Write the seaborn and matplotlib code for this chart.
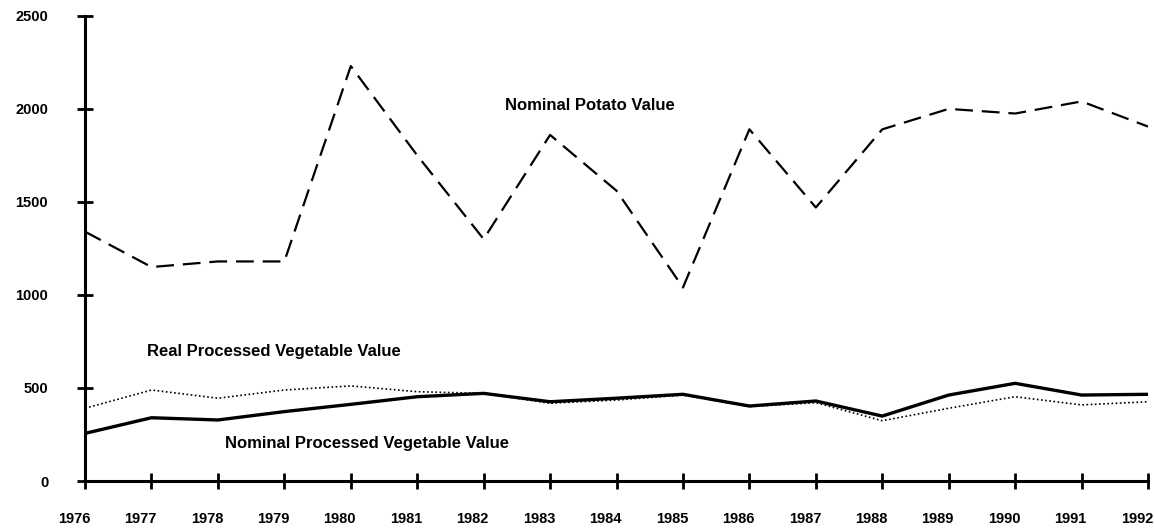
import numpy as np
import pandas as pd
import matplotlib
matplotlib.use("Agg")
import matplotlib.pyplot as plt
import matplotlib.transforms as mtransforms
import seaborn as sns

# Data
years = list(range(1976, 1993))
nominal_potato = [1340, 1150, 1180, 1180, 2230, 1750, 1300, 1860, 1560, 1040,
                  1890, 1470, 1890, 2000, 1975, 2040, 1905]
nominal_veg = [256, 340, 328, 373, 412, 453, 471, 426, 445, 466,
               403, 430, 349, 462, 525, 462, 466]
real_veg = [391, 489, 445, 489, 511, 480, 471, 418, 435, 462,
            400, 421, 324, 391, 453, 409, 426]

df = pd.DataFrame({"year": years, "potato": nominal_potato,
                   "nom_veg": nominal_veg, "real_veg": real_veg})

sns.set_style("white")
plt.rcParams['font.family'] = ['Liberation Sans', 'DejaVu Sans']
plt.rcParams['text.color'] = 'black'

fig = plt.figure(figsize=(11.54, 5.28), dpi=100)
ax = fig.add_axes([0.0737, 0.089, 0.9211, 0.881])

sns.lineplot(data=df, x="year", y="potato", ax=ax, color="black",
             linewidth=1.6)
ax.lines[-1].set_dashes([8, 4])
sns.lineplot(data=df, x="year", y="real_veg", ax=ax, color="black",
             linewidth=1.2)
ax.lines[-1].set_dashes([1, 1.5])
sns.lineplot(data=df, x="year", y="nom_veg", ax=ax, color="black",
             linewidth=2.4)

ax.set_xlim(1976, 1992)
ax.set_ylim(0, 2500)
ax.set_xticks(years)
ax.set_yticks([0, 500, 1000, 1500, 2000, 2500])
ax.set_xlabel("")
ax.set_ylabel("")

for s in ["top", "right"]:
    ax.spines[s].set_visible(False)
for s in ["left", "bottom"]:
    ax.spines[s].set_linewidth(2.2)
    ax.spines[s].set_color("black")

ax.tick_params(axis="both", direction="inout", length=11, width=2,
               color="black", labelcolor="black", labelsize=10.5,
               bottom=True, left=True)
ax.tick_params(axis="y", pad=21)
ax.tick_params(axis="x", pad=17)

# year labels sit a little left of their ticks in the original
shift = mtransforms.ScaledTranslation(-11 / 100, 0, fig.dpi_scale_trans)
for lab in ax.get_xticklabels():
    lab.set_fontweight("bold")
    lab.set_transform(lab.get_transform() + shift)
for lab in ax.get_yticklabels():
    lab.set_fontweight("bold")

ax.text(1983.6, 2020, "Nominal Potato Value", ha="center", va="center",
        fontsize=12, fontweight="bold", color="black")
ax.text(1976.93, 694, "Real Processed Vegetable Value", ha="left",
        va="center", fontsize=12, fontweight="bold", color="black")
ax.text(1978.1, 204, "Nominal Processed Vegetable Value", ha="left",
        va="center", fontsize=12, fontweight="bold", color="black")

plt.savefig("out.png", dpi=100)
